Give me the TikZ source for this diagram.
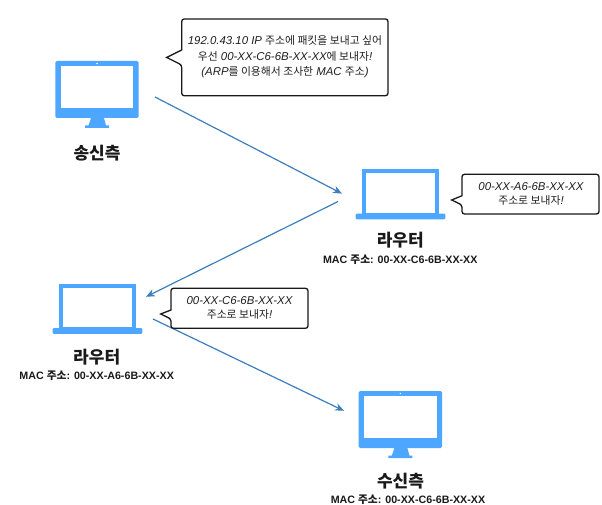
\documentclass[tikz,border=0pt]{standalone}
\usepackage{fontspec}
\setmainfont{Liberation Sans}
\newfontfamily\kr[Scale=0.95]{Noto Sans CJK KR}
\newfontfamily\krb[Scale=1]{Noto Sans CJK KR}
\newcommand{\K}[1]{{\kr #1}}
\newcommand{\B}[1]{{\krb #1}}
\newcommand{\I}[1]{{\itshape #1}}
\definecolor{icon}{HTML}{4DA6FF}
\definecolor{wire}{HTML}{3D7EBD}
\usetikzlibrary{arrows.meta}
\tikzset{
  x=1pt,y=-1pt,
  link/.style={draw=wire,line width=1.2pt,-{Stealth[length=9pt,width=7.5pt]}},
  bubble/.style={draw=black!90,fill=white,line width=1.3pt,line join=miter},
  say/.style={align=center,font=\fontsize{11.4}{14}\selectfont,text=black!88,inner sep=0pt},
  title/.style={font=\fontsize{17}{19}\selectfont\bfseries,text=black!90,inner sep=0pt},
  mac/.style={font=\fontsize{10.7}{12}\selectfont\bfseries,text=black!90,inner sep=0pt},
}
\newcommand{\monitor}[2]{%
  \begin{scope}[shift={(#1,#2)}]
    \fill[icon,rounded corners=1.5pt] (55.3,61) rectangle (138.7,118);
    \fill[white] (60.7,66) rectangle (133.3,108.3);
    \fill[white] (97,63.5) circle (0.8);
    \fill[icon] (91,118) -- (104,118) -- (106,125.5) -- (109,125.5) -- (109,128) -- (85,128) -- (85,125.5) -- (88.5,125.5) -- cycle;
  \end{scope}}
\newcommand{\laptop}[2]{%
  \begin{scope}[shift={(#1,#2)}]
    \draw[icon,line width=4.2pt] (364,171.4) rectangle (437,215);
    \fill[icon,rounded corners=1pt] (355.7,213.7) rectangle (445.3,219.3);
  \end{scope}}
\begin{document}
\begin{tikzpicture}
\useasboundingbox (0,0) rectangle (602,505);
\fill[white] (0,0) rectangle (602,505);
% icons
\monitor{0}{0}
\monitor{303.4}{330}
\laptop{0}{0}
\laptop{-303}{114.5}
% arrow ends
\coordinate (a1s) at (155,97);
\coordinate (a1e) at (342,193.6);
\coordinate (a2s) at (338,201.5);
\coordinate (a2e) at (146,296.8);
\coordinate (a3s) at (153,319);
\coordinate (a3e) at (344,410.8);
\draw[link] (a1s) -- (a1e);
\draw[link] (a2s) -- (a2e);
\draw[link] (a3s) -- (a3e);
% bubbles
\draw[bubble] (181.7,50) [rounded corners=2.5pt] -- (181.7,19) -- (388,19) -- (388,95.7) -- (181.7,95.7) -- (181.7,65) [sharp corners] -- (166.7,57.5) -- cycle;
\draw[bubble] (462,195.7) [rounded corners=2.5pt] -- (462,174.3) -- (599,174.3) -- (599,214) -- (462,214) -- (462,205) [sharp corners] -- (451.7,200) -- cycle;
\draw[bubble] (171,310) [rounded corners=2.5pt] -- (171,288.3) -- (308,288.3) -- (308,328.3) -- (171,328.3) -- (171,319) [sharp corners] -- (160.7,314) -- cycle;
% bubble text
\node[say] (t1) at (285,57) {\I{192.0.43.10 IP} \K{주소에 패킷을 보내고 싶어}\\[1.5pt]\K{우선} \I{00-XX-C6-6B-XX-XX}\K{에 보내자}\I{!}\\[1.5pt]\I{(ARP}\K{를 이용해서 조사한} \I{MAC} \K{주소}\I{)}};
\node[say] (t2) at (531,193.7) {\I{00-XX-A6-6B-XX-XX}\\\K{주소로 보내자}\I{!}};
\node[say] (t3) at (239.5,308) {\I{00-XX-C6-6B-XX-XX}\\\K{주소로 보내자}\I{!}};
% labels
\node[title] (sender) at (97,153.5) {\B{송신측}};
\node[title] (r1) at (400.3,240.5) {\B{라우터}};
\node[mac] (m1) at (400.3,259.5) {MAC \B{주소}: 00-XX-C6-6B-XX-XX};
\node[title] (r2) at (96.7,357.3) {\B{라우터}};
\node[mac] (m2) at (96.7,375.7) {MAC \B{주소}: 00-XX-A6-6B-XX-XX};
\node[title] (recv) at (400.5,481.3) {\B{수신측}};
\node[mac] (m3) at (408,500) {MAC \B{주소}: 00-XX-C6-6B-XX-XX};
\end{tikzpicture}
\end{document}
